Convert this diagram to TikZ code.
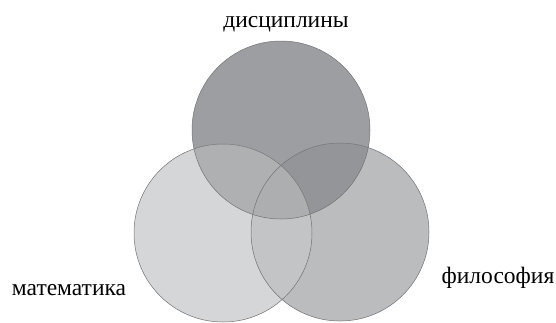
\documentclass[tikz,border=0pt]{standalone}
\usepackage{fontspec}
\setmainfont{Liberation Serif}
\begin{document}
\begin{tikzpicture}[x=1pt,y=-1pt,
  lbl/.style={font=\fontsize{23.5}{27}\selectfont, inner sep=0pt},
  ring/.style={draw=black!55, line width=0.5pt}]
\definecolor{cT}{HTML}{9D9EA1}
\definecolor{cL}{HTML}{D5D6D8}
\definecolor{cR}{HTML}{BBBCBE}
\definecolor{cTL}{HTML}{AFB0B2}
\definecolor{cTR}{HTML}{949598}
\definecolor{cLR}{HTML}{C3C4C6}
\definecolor{cA}{HTML}{ADAEB0}
\useasboundingbox (0,0) rectangle (556,322);
\coordinate (T) at (281,130);
\coordinate (L) at (223,233);
\coordinate (R) at (340,232);
\def\rad{89}
\fill[cT] (T) circle (\rad);
\fill[cL] (L) circle (\rad);
\fill[cR] (R) circle (\rad);
\begin{scope}
  \clip (T) circle (\rad);
  \fill[cTL] (L) circle (\rad);
  \fill[cTR] (R) circle (\rad);
\end{scope}
\begin{scope}
  \clip (L) circle (\rad);
  \fill[cLR] (R) circle (\rad);
  \clip (R) circle (\rad);
  \fill[cA] (T) circle (\rad);
\end{scope}
\draw[ring] (T) circle (\rad);
\draw[ring] (L) circle (\rad);
\draw[ring] (R) circle (\rad);
\node[lbl, anchor=base] (disc) at (286,27) {дисциплины};
\node[lbl, anchor=base] (math) at (69,295) {математика};
\node[lbl, anchor=base] (phil) at (498,283) {философия};
\end{tikzpicture}
\end{document}
